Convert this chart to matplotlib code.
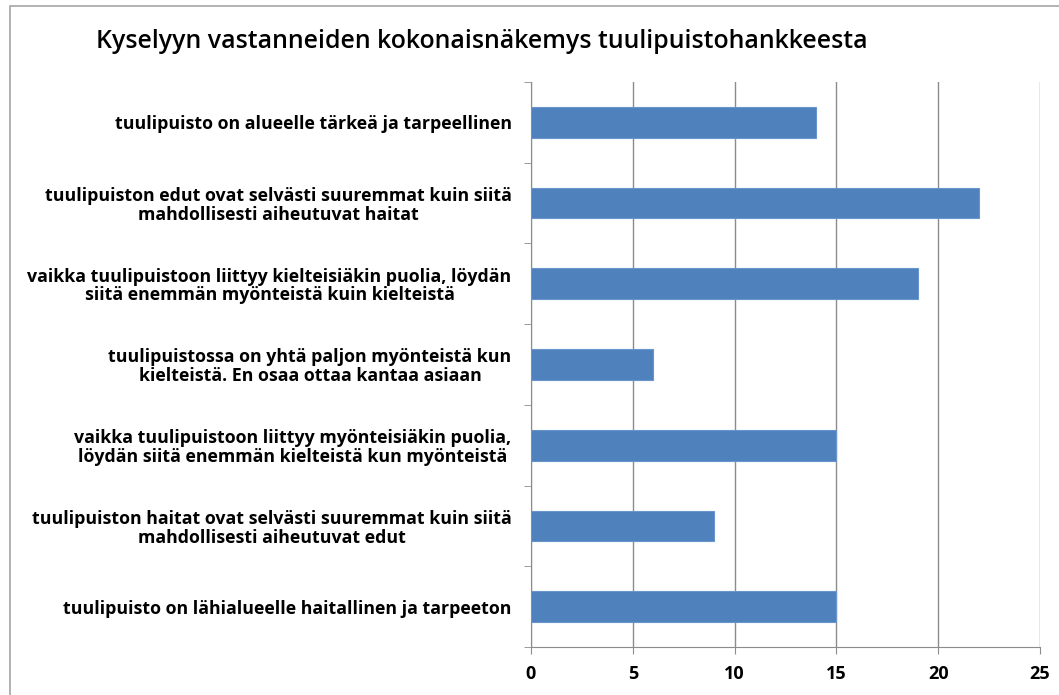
import matplotlib
matplotlib.use("Agg")
import matplotlib.pyplot as plt
from matplotlib.patches import Rectangle
import numpy as np

plt.rcParams.update({
    "font.family": "Open Sans",
})

TITLE = "Kyselyyn vastanneiden kokonaisnäkemys tuulipuistohankkeesta"
labels = [
    "tuulipuisto on alueelle tärkeä ja tarpeellinen",
    "tuulipuiston edut ovat selvästi suuremmat kuin siitä\nmahdollisesti aiheutuvat haitat",
    "vaikka tuulipuistoon liittyy kielteisiäkin puolia, löydän\nsiitä enemmän myönteistä kuin kielteistä",
    "tuulipuistossa on yhtä paljon myönteistä kun\nkielteistä. En osaa ottaa kantaa asiaan",
    "vaikka tuulipuistoon liittyy myönteisiäkin puolia,\nlöydän siitä enemmän kielteistä kun myönteistä",
    "tuulipuiston haitat ovat selvästi suuremmat kuin siitä\nmahdollisesti aiheutuvat edut",
    "tuulipuisto on lähialueelle haitallinen ja tarpeeton",
]
values = [14, 22, 19, 6, 15, 9, 15]
xticks = [0, 5, 10, 15, 20, 25]

BAR = "#4F81BD"
GRID = "#8C8C8C"

fig = plt.figure(figsize=(10.59, 6.95), dpi=100)
# cadre gris du graphique (coupé à droite et en bas comme dans l'original)
fig.patches.append(Rectangle((10 / 1059, -0.1), 1.2, 1.1 - 6 / 695,
                             transform=fig.transFigure, fill=False,
                             edgecolor="#A6A6A6", lw=1.2))
ax = fig.add_axes([531 / 1059, 1 - 647 / 695, (1040 - 531) / 1059, (647 - 82) / 695])

n = len(values)
y = np.arange(n)
ax.barh(y, values, height=0.38, color=BAR, edgecolor="#6A95CC", lw=0.8, zorder=3)
ax.set_ylim(n - 0.5, -0.5)
ax.set_xlim(0, 25)

ax.set_xticks(xticks)
ax.set_xticklabels([str(t) for t in xticks], fontsize=13, fontweight="bold")
ax.set_yticks(y)
ax.set_yticklabels(labels, fontsize=12.8, fontweight="bold",
                   multialignment="center", linespacing=1.05)
ax.set_yticks(np.arange(n + 1) - 0.5, minor=True)
ax.tick_params(axis="y", which="major", length=0, pad=14)
ax.tick_params(axis="y", which="minor", length=5, color=GRID, direction="out")
ax.tick_params(axis="x", length=5, color=GRID, direction="out", pad=8)

ax.grid(axis="x", color=GRID, lw=1, zorder=0)
for s in ("top", "right"):
    ax.spines[s].set_visible(False)
for s in ("left", "bottom"):
    ax.spines[s].set_color(GRID)

fig.text(482 / 1059, 1 - 42 / 695, TITLE, ha="center", va="center",
         fontsize=17.9, fontweight="semibold")

fig.savefig("out.png", dpi=100)
